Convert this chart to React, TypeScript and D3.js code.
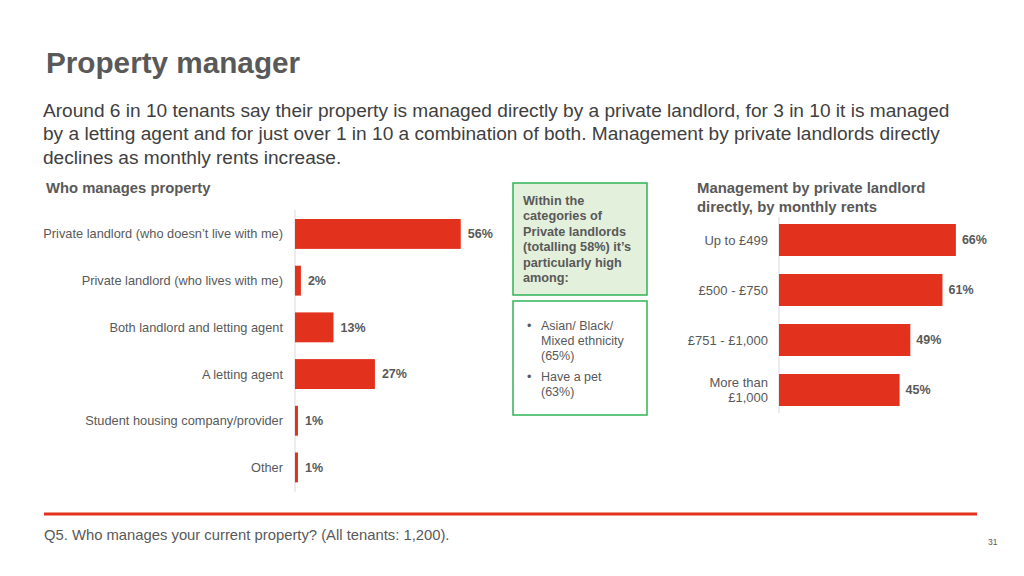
import React from "react";
import * as d3 from "d3";

const whoCategories = [
  "Private landlord (who doesn\u2019t live with me)",
  "Private landlord (who lives with me)",
  "Both landlord and letting agent",
  "A letting agent",
  "Student housing company/provider",
  "Other",
];
const whoValues = [56, 2, 13, 27, 1, 1];

const rentCategories = ["Up to \u00a3499", "\u00a3500 - \u00a3750", "\u00a3751 - \u00a31,000", "More than\n\u00a31,000"];
const rentValues = [66, 61, 49, 45];

const bodyLines = [
  "Around 6 in 10 tenants say their property is managed directly by a private landlord, for 3 in 10 it is managed",
  "by a letting agent and for just over 1 in 10 a combination of both. Management by private landlords directly",
  "declines as monthly rents increase.",
];
const boxHeadLines = ["Within the", "categories of", "Private landlords", "(totalling 58%) it\u2019s", "particularly high", "among:"];
const bulletItems = [["Asian/ Black/", "Mixed ethnicity", "(65%)"], ["Have a pet", "(63%)"]];

const RED = "#e2321e";
const GREY = "#595959";
const FONT = "'Liberation Sans', Arial, Helvetica, sans-serif";

export default function App() {
  const xL = d3.scaleLinear().domain([0, 100]).range([295, 591]);
  const yL = d3.scaleBand<string>().domain(whoCategories).range([202.2, 499.2]).padding(0.36);
  const xR = d3.scaleLinear().domain([0, 100]).range([779, 1047]);
  const yR = d3.scaleBand<string>().domain(rentCategories).range([206, 424]).padding(0.36);

  return (
    <svg width={1024} height={576} style={{ position: "absolute", left: 0, top: 0 }} fontFamily={FONT}>
      <rect width={1024} height={576} fill="#fff" />
      <text x={46} y={72.5} fontSize={29.7} fontWeight="bold" fill={GREY}>Property manager</text>
      {bodyLines.map((l, i) => (
        <text key={i} x={43} y={117 + i * 23.3} fontSize={19.1} fill="#404040">{l}</text>
      ))}

      {/* Left chart */}
      <text x={46} y={193} fontSize={14.8} fontWeight="bold" fill={GREY}>Who manages property</text>
      <line x1={295} x2={295} y1={210} y2={492} stroke="#d9d9d9" strokeWidth={1} />
      {whoCategories.map((c, i) => {
        const y = yL(c)!;
        const bw = yL.bandwidth();
        return (
          <g key={c}>
            <rect x={xL(0)} y={y} width={xL(whoValues[i]) - xL(0)} height={bw} fill={RED} />
            <text x={283} y={y + bw / 2} dy="0.35em" textAnchor="end" fontSize={12.8} fill={GREY}>{c}</text>
            <text x={xL(whoValues[i]) + 7} y={y + bw / 2} dy="0.35em" fontSize={12.5} fontWeight="bold" fill={GREY}>{whoValues[i]}%</text>
          </g>
        );
      })}

      {/* Green boxes */}
      <rect x={513} y={183} width={134} height={112} fill="#e3f0dc" stroke="#2fb455" strokeWidth={1.5} />
      {boxHeadLines.map((l, i) => (
        <text key={i} x={523} y={204.5 + i * 15.5} fontSize={12.7} fontWeight="bold" fill={GREY}>{l}</text>
      ))}
      <rect x={513} y={301} width={134} height={114} fill="#fff" stroke="#2fb455" strokeWidth={1.5} />
      {(() => {
        const out: React.ReactNode[] = [];
        let y = 329.5;
        bulletItems.forEach((item, bi) => {
          out.push(<text key={"b" + bi} x={527} y={y} fontSize={12.5} fill={GREY}>{"\u2022"}</text>);
          item.forEach((l, li) => {
            out.push(<text key={bi + "-" + li} x={541} y={y} fontSize={12.5} fill={GREY}>{l}</text>);
            y += 15.3;
          });
          y += 5.5;
        });
        return out;
      })()}

      {/* Right chart */}
      <text x={697} y={193} fontSize={14.9} fontWeight="bold" fill={GREY}>Management by private landlord</text>
      <text x={697} y={212} fontSize={14.9} fontWeight="bold" fill={GREY}>directly, by monthly rents</text>
      <line x1={779} x2={779} y1={217} y2={413} stroke="#d9d9d9" strokeWidth={1} />
      {rentCategories.map((c, i) => {
        const y = yR(c)!;
        const bw = yR.bandwidth();
        const lines = c.split("\n");
        return (
          <g key={c}>
            <rect x={xR(0)} y={y} width={xR(rentValues[i]) - xR(0)} height={bw} fill={RED} />
            {lines.map((l, li) => (
              <text key={li} x={768} y={y + bw / 2 + (li - (lines.length - 1) / 2) * 15} dy="0.35em" textAnchor="end" fontSize={13} fill={GREY}>{l}</text>
            ))}
            <text x={xR(rentValues[i]) + 6} y={y + bw / 2} dy="0.35em" fontSize={12.5} fontWeight="bold" fill={GREY}>{rentValues[i]}%</text>
          </g>
        );
      })}

      {/* Footer */}
      <line x1={44} x2={977} y1={514} y2={514} stroke={RED} strokeWidth={3} />
      <text x={44} y={540} fontSize={14.8} fill={GREY}>Q5. Who manages your current property? (All tenants: 1,200).</text>
      <text x={988} y={545} fontSize={8.5} fill={GREY}>31</text>
    </svg>
  );
}
